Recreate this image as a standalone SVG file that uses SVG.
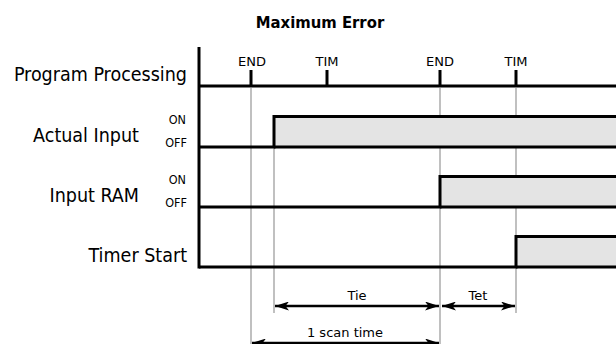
<svg xmlns="http://www.w3.org/2000/svg" width="616" height="344" viewBox="0 0 616 344">
<style>
.lbl{font-family:"DejaVu Sans Condensed","DejaVu Sans",sans-serif;font-size:19.5px;fill:#000;text-anchor:end}
.sm{font-family:"DejaVu Sans",sans-serif;font-size:13px;fill:#000;text-anchor:middle}
.oo{font-family:"DejaVu Sans Condensed","DejaVu Sans",sans-serif;font-size:12.5px;fill:#000;text-anchor:end}
.title{font-family:"DejaVu Sans Condensed","DejaVu Sans",sans-serif;font-size:16.5px;font-weight:bold;fill:#000;text-anchor:middle}
.sig{fill:none;stroke:#000;stroke-width:3}
.fill{fill:#e4e4e4;stroke:none}
.guide{stroke:#c0c0c0;stroke-width:2;fill:none}
.dim{stroke:#000;stroke-width:2.5;fill:none;marker-start:url(#ah);marker-end:url(#ah)}
</style>
<defs>
<marker id="ah" viewBox="0 0 14 9" refX="14" refY="4.5" markerWidth="14" markerHeight="9" markerUnits="userSpaceOnUse" orient="auto-start-reverse">
<path d="M0,0 L14,4.5 L0,9 L3.5,4.5 Z" fill="#000"/>
</marker>
</defs>
<text class="title" x="320" y="28">Maximum Error</text>
<g id="guides">
<line class="guide" x1="251" y1="88" x2="251" y2="344"/>
<line class="guide" x1="274" y1="148" x2="274" y2="313"/>
<line class="guide" x1="440" y1="88" x2="440" y2="344"/>
<line class="guide" x1="516" y1="88" x2="516" y2="313"/>
</g>
<g id="program">
<text class="lbl" x="187" y="81">Program Processing</text>
<line class="sig" x1="199" y1="86" x2="616" y2="86"/>
<line class="sig" x1="251" y1="70" x2="251" y2="86"/>
<line class="sig" x1="327" y1="70" x2="327" y2="86"/>
<line class="sig" x1="440" y1="70" x2="440" y2="86"/>
<line class="sig" x1="516" y1="70" x2="516" y2="86"/>
<text class="sm" x="252" y="66">END</text>
<text class="sm" x="327" y="66">TIM</text>
<text class="sm" x="440" y="66">END</text>
<text class="sm" x="516" y="66">TIM</text>
</g>
<g id="actual-input">
<text class="lbl" x="139" y="142">Actual Input</text>
<text class="oo" x="186" y="124">ON</text>
<text class="oo" x="187" y="147">OFF</text>
<rect class="fill" x="274" y="116.5" width="342" height="30.5"/>
<polyline class="sig" points="199,147 274,147 274,116.5 616,116.5"/>
<line class="sig" x1="274" y1="147" x2="616" y2="147"/>
</g>
<g id="input-ram">
<text class="lbl" x="139" y="202">Input RAM</text>
<text class="oo" x="186" y="184">ON</text>
<text class="oo" x="187" y="207">OFF</text>
<rect class="fill" x="440" y="176.5" width="176" height="30.5"/>
<polyline class="sig" points="199,207 440,207 440,176.5 616,176.5"/>
<line class="sig" x1="440" y1="207" x2="616" y2="207"/>
</g>
<g id="timer-start">
<text class="lbl" x="187" y="262">Timer Start</text>
<rect class="fill" x="516" y="236.5" width="100" height="30.5"/>
<polyline class="sig" points="199,267 516,267 516,236.5 616,236.5"/>
<line class="sig" x1="516" y1="267" x2="616" y2="267"/>
</g>
<line id="axis" class="sig" x1="199" y1="47" x2="199" y2="268.5"/>
<g id="connectors">
<line class="dim" x1="275" y1="306" x2="439" y2="306"/>
<text class="sm" x="357" y="300">Tie</text>
<line class="dim" x1="442" y1="306" x2="515" y2="306"/>
<text class="sm" x="478" y="300">Tet</text>
<line class="dim" x1="252" y1="343" x2="439" y2="343"/>
<text class="sm" x="345" y="337">1 scan time</text>
</g>
</svg>
